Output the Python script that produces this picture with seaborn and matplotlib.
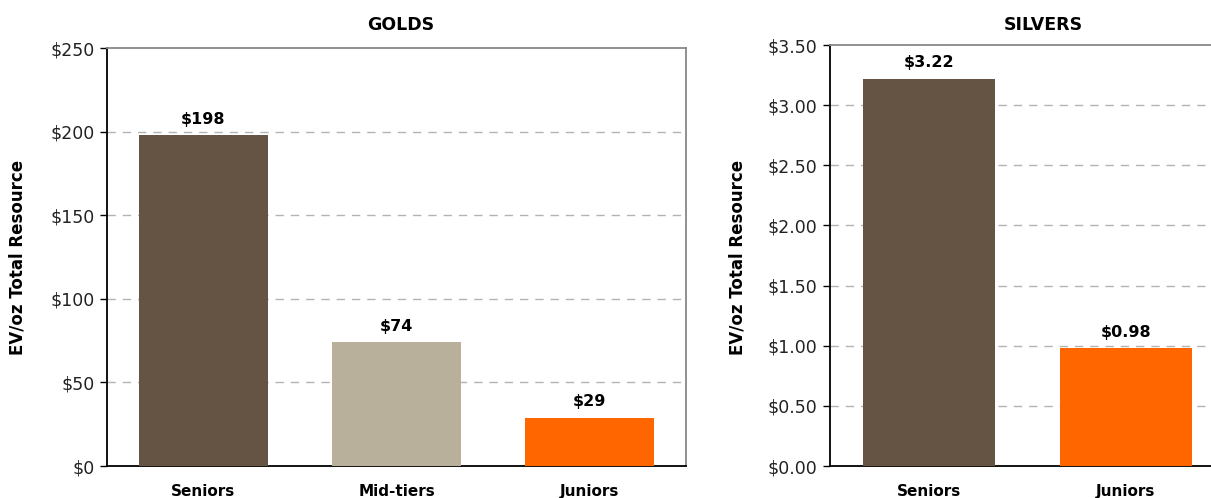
import matplotlib
matplotlib.use("Agg")
import matplotlib.pyplot as plt
import seaborn as sns
import pandas as pd
from matplotlib.ticker import FuncFormatter

gold_categories = ["Seniors", "Mid-tiers", "Juniors"]
gold_values = [198, 74, 29]
gold_labels = ["$198", "$74", "$29"]
silver_categories = ["Seniors", "Juniors"]
silver_values = [3.22, 0.98]
silver_labels = ["$3.22", "$0.98"]
palette = {"Seniors": "#655443", "Mid-tiers": "#b8b09a", "Juniors": "#ff6600"}

sns.set_theme(style="white")
plt.rcParams['font.family'] = ['DejaVu Sans']
plt.rcParams.update({"text.color": "black", "axes.labelcolor": "black",
                     "xtick.color": "black", "ytick.color": "black"})

W, H = 1211, 498
fig = plt.figure(figsize=(W / 100, H / 100), dpi=100)

def px_axes(l, r, t, b):
    return fig.add_axes([l / W, (H - b) / H, (r - l) / W, (b - t) / H])

ax1 = px_axes(107, 686, 48, 466)
ax2 = px_axes(830, 1224.5, 45, 466)

def style(ax, cats, vals, labels, ymax, step, fmt, title_x, title, ylabel_x):
    df = pd.DataFrame({"cat": cats, "val": vals})
    sns.barplot(data=df, x="cat", y="val", hue="cat", palette=palette,
                width=0.67, legend=False, ax=ax, saturation=1, zorder=3,
                linewidth=0)
    ax.set_xlim(-0.5, len(cats) - 0.5)
    ax.set_ylim(0, ymax)
    ticks = [i * step for i in range(int(round(ymax / step)) + 1)]
    ax.set_yticks(ticks)
    ax.yaxis.set_major_formatter(FuncFormatter(fmt))
    for t in ticks[1:-1]:
        ax.axhline(t, color="#b3b3b3", linestyle=(0, (6, 5)), linewidth=1, zorder=1)
    ax.set_xlabel("")
    ax.set_ylabel("")
    ax.tick_params(axis="y", which="both", left=True, length=5, width=1,
                   color="black", labelcolor="#222222", labelsize=12.5, pad=4)
    ax.tick_params(axis="x", bottom=False, length=0, labelsize=11, pad=13,
                   labelcolor="black")
    for lab in ax.get_xticklabels():
        lab.set_fontweight("bold")
    for s in ["left", "bottom"]:
        ax.spines[s].set_color("black")
        ax.spines[s].set_linewidth(1.3)
    for s in ["top", "right"]:
        ax.spines[s].set_color("#888888")
        ax.spines[s].set_linewidth(1.3)
    for i, (v, lab) in enumerate(zip(vals, labels)):
        ax.annotate(lab, (i, v), xytext=(0, 6), textcoords="offset points",
                    ha="center", va="bottom", fontsize=11.5, fontweight="bold",
                    color="black")
    fig.text(title_x / W, (H - 25) / H, title, ha="center", va="center",
             fontsize=12.5, fontweight="bold", color="black")
    fig.text(ylabel_x / W, (H - 257) / H, "EV/oz Total Resource", rotation=90,
             ha="center", va="center", fontsize=12, fontweight="bold",
             color="black")

style(ax1, gold_categories, gold_values, gold_labels, 250, 50,
      lambda v, p: f"${v:.0f}", 401, "GOLDS", 18)
style(ax2, silver_categories, silver_values, silver_labels, 3.5, 0.5,
      lambda v, p: f"${v:.2f}", 1043, "SILVERS", 738)

fig.savefig("out.png", dpi=100)
